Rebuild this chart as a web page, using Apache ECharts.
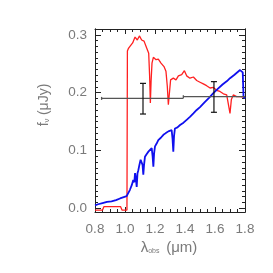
<!DOCTYPE html>
<html>
<head>
<meta charset="utf-8">
<script src="https://cdn.jsdelivr.net/npm/echarts@6/dist/echarts.min.js"></script>
<style>html,body{margin:0;padding:0;background:#fff}#c{width:273px;height:273px}</style>
</head>
<body>
<div id="c"></div>
<script>
// Red spectrum (wavelength in micron, flux in microJy)
var redX = [0.80,0.85,0.86,0.97,0.98,1.013,1.016,1.022,1.033,1.051,1.067,1.082,1.096,1.111,1.127,1.14,1.158,1.164,1.169,1.174,1.18,1.189,1.207,1.222,1.24,1.26,1.273,1.282,1.289,1.296,1.304,1.322,1.34,1.356,1.378,1.396,1.411,1.433,1.456,1.478,1.5,1.522,1.544,1.567,1.589,1.611,1.633,1.656,1.678,1.691,1.7,1.709,1.722,1.744,1.767,1.8];
var redY = [-0.003,-0.003,0.003,0.003,-0.003,-0.003,0.272,0.276,0.28,0.286,0.296,0.291,0.298,0.291,0.289,0.28,0.268,0.23,0.182,0.22,0.251,0.261,0.257,0.258,0.251,0.245,0.237,0.211,0.179,0.199,0.222,0.225,0.222,0.229,0.231,0.238,0.229,0.225,0.227,0.221,0.218,0.215,0.212,0.208,0.209,0.204,0.202,0.198,0.196,0.194,0.164,0.188,0.196,0.193,0.193,0.192];
// Blue spectrum
var blueX = [0.80,0.82,0.85,0.88,0.91,0.94,0.967,1.011,1.033,1.045,1.055,1.062,1.067,1.072,1.078,1.083,1.089,1.096,1.104,1.111,1.117,1.122,1.127,1.133,1.145,1.156,1.167,1.178,1.184,1.189,1.194,1.2,1.211,1.222,1.239,1.256,1.272,1.289,1.3,1.311,1.317,1.322,1.327,1.333,1.35,1.367,1.39,1.411,1.433,1.456,1.478,1.5,1.53,1.56,1.589,1.62,1.65,1.68,1.7,1.73,1.767,1.78,1.785,1.79,1.8];
var blueY = [0.005,0.007,0.009,0.011,0.012,0.014,0.017,0.021,0.032,0.04,0.049,0.045,0.061,0.052,0.037,0.06,0.066,0.075,0.084,0.086,0.075,0.058,0.075,0.089,0.094,0.098,0.1,0.104,0.09,0.072,0.095,0.107,0.112,0.118,0.122,0.127,0.13,0.133,0.134,0.135,0.12,0.098,0.125,0.138,0.14,0.144,0.148,0.153,0.158,0.164,0.17,0.175,0.183,0.191,0.199,0.207,0.214,0.22,0.225,0.231,0.239,0.242,0.235,0.193,0.19];
// Photometric points with error bars
var photX   = [1.12, 1.593];
var photY   = [0.19, 0.193];
var photXlo = [0.844, 1.389];
var photXhi = [1.389, 1.8];
var photYlo = [0.163, 0.166];
var photYhi = [0.216, 0.219];
// Axis ticks
var yMajor = [0, 0.1, 0.2, 0.3];
var yMinor = [];
for (var i = 1; i <= 30; i++) { if (i % 10) yMinor.push(+(i * 0.01).toFixed(2)); }
var YMIN = -0.0064, YMAX = 0.31;

function zip(a, b) { return a.map(function (v, i) { return [v, b[i]]; }); }
var photData = photX.map(function (v, i) { return [v, photY[i], photXlo[i], photXhi[i], photYlo[i], photYhi[i]]; });

var chart = echarts.init(document.getElementById('c'), null, {renderer: 'canvas'});
var labelFont = {color: '#7a7a7a', fontFamily: 'Liberation Sans', fontSize: 13.5};
var lineStyle = {color: '#222', width: 1};
function yAx(pos, ticks, len, labels) {
  return {
    type: 'value', position: pos, min: YMIN, max: YMAX,
    axisLine: {show: true, onZero: false, lineStyle: lineStyle},
    axisTick: {show: true, inside: true, length: len, customValues: ticks, lineStyle: lineStyle},
    axisLabel: labels ? Object.assign({show: true, customValues: yMajor, margin: 8, formatter: function (v) { return v.toFixed(1); }}, labelFont) : {show: false},
    splitLine: {show: false}
  };
}
function xAx(pos, labels) {
  return {
    type: 'value', position: pos, min: 0.8, max: 1.8, interval: 0.2,
    axisLine: {show: true, onZero: false, lineStyle: lineStyle},
    axisTick: {show: true, inside: true, length: 5, lineStyle: lineStyle},
    minorTick: {show: true, splitNumber: 4, length: 3, lineStyle: lineStyle},
    axisLabel: labels ? Object.assign({show: true, margin: 10, formatter: function (v) { return v.toFixed(1); }}, labelFont) : {show: false},
    splitLine: {show: false}, minorSplitLine: {show: false}
  };
}
chart.setOption({
  animation: false,
  grid: {left: 95, right: 28, top: 29, bottom: 61, containLabel: false},
  xAxis: [xAx('bottom', true), xAx('top', false)],
  yAxis: [yAx('left', yMajor, 6, true), yAx('left', yMinor, 3, false), yAx('right', yMajor, 6, false), yAx('right', yMinor, 3, false)],
  series: [
    {type: 'line', data: zip(redX, redY), showSymbol: false, lineStyle: {color: '#ff2020', width: 1.3}, z: 2},
    {type: 'line', data: zip(blueX, blueY), showSymbol: false, lineStyle: {color: '#1010ee', width: 1.8}, z: 3},
    {type: 'custom', data: photData, z: 4,
      renderItem: function (params, api) {
        var c = api.coord([api.value(0), api.value(1)]);
        var l = api.coord([api.value(2), api.value(1)]);
        var r = api.coord([api.value(3), api.value(1)]);
        var lo = api.coord([api.value(0), api.value(4)]);
        var hi = api.coord([api.value(0), api.value(5)]);
        var cap = 3;
        var gs = {stroke: '#555', lineWidth: 1.3};
        var bs = {stroke: '#111', lineWidth: 1.2};
        return {type: 'group', children: [
          {type: 'line', shape: {x1: l[0], y1: c[1], x2: r[0], y2: c[1]}, style: gs},
          {type: 'line', shape: {x1: l[0], y1: c[1] - 1.5, x2: l[0], y2: c[1] + 1.5}, style: gs},
          {type: 'line', shape: {x1: c[0], y1: lo[1], x2: c[0], y2: hi[1]}, style: bs},
          {type: 'line', shape: {x1: c[0] - cap, y1: lo[1], x2: c[0] + cap, y2: lo[1]}, style: bs},
          {type: 'line', shape: {x1: c[0] - cap, y1: hi[1], x2: c[0] + cap, y2: hi[1]}, style: bs}
        ]};
      }
    }
  ],
  graphic: [
    {type: 'text', x: 44, y: 105, rotation: Math.PI / 2,
      style: {text: '{a|f}{s|ν} {a|(μJy)}', align: 'center', verticalAlign: 'middle',
        rich: {a: {fontFamily: 'Liberation Sans', fontSize: 14, fill: '#7a7a7a', color: '#7a7a7a'},
               s: {fontFamily: 'Liberation Sans', fontSize: 8, fill: '#7a7a7a', color: '#7a7a7a', padding: [6, 0, 0, 0]}}}},
    {type: 'text', x: 169, y: 248,
      style: {text: '{a|λ}{s|obs}  {a|(μm)}', align: 'center', verticalAlign: 'middle',
        rich: {a: {fontFamily: 'Liberation Sans', fontSize: 15, fill: '#7a7a7a', color: '#7a7a7a'},
               s: {fontFamily: 'Liberation Sans', fontSize: 7, fill: '#7a7a7a', color: '#7a7a7a', padding: [6, 0, 0, 0]}}}}
  ]
});
</script>
</body>
</html>
